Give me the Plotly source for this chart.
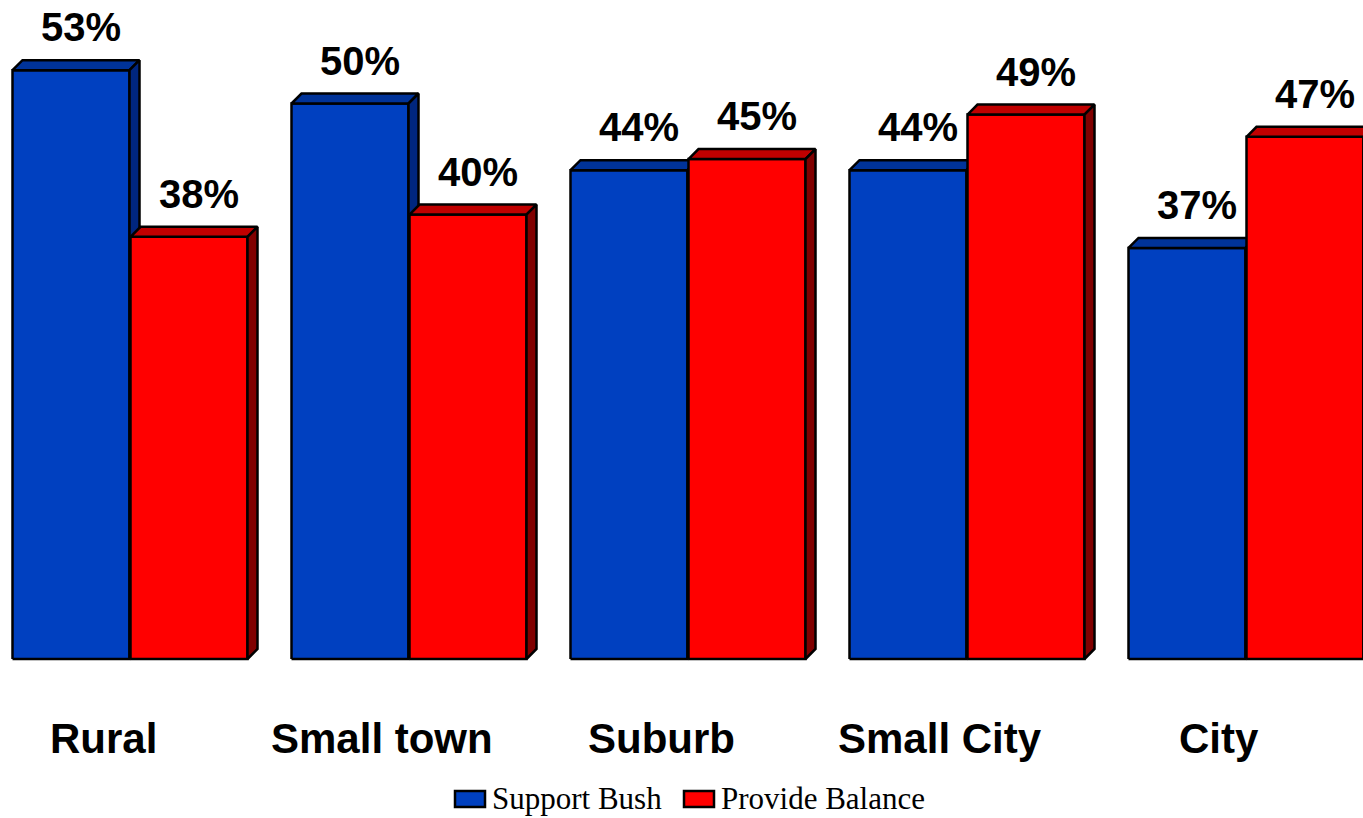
import plotly.graph_objects as go

# Survey results by community type
categories = ["Rural", "Small town", "Suburb", "Small City", "City"]
support_bush = [53, 50, 44, 44, 37]
provide_balance = [38, 40, 45, 49, 47]
series_names = ["Support Bush", "Provide Balance"]

W, H = 1363, 818
PX_PER_CAT = 279.0          # horizontal pixels per category slot
PX_PER_PCT = 11.11          # vertical pixels per percentage point
GROUP_CENTER_PX = 130.0     # first group's centre, in pixels from the left
PLOT_BOTTOM_PX = 668        # bottom of the plotting area
ZERO_PX = 659               # pixel row of the 0% baseline

ux = 1.0 / PX_PER_CAT       # one pixel in x data units
uy = 1.0 / PX_PER_PCT       # one pixel in y data units
DX, DY = 10 * ux, 10 * uy   # depth of the 3-D extrusion

faces = {
    "blue": ("#0040C0", "#003399", "#00267F"),
    "red": ("#FF0000", "#C00000", "#800000"),
}


def prism(x0, x1, v, colors):
    front, top, side = colors
    shapes = [
        ([x0, x1, x1, x0, x0], [0, 0, v, v, 0], front),
        ([x0, x1, x1 + DX, x0 + DX, x0], [v, v, v + DY, v + DY, v], top),
        ([x1, x1 + DX, x1 + DX, x1, x1], [0, DY, v + DY, v, 0], side),
    ]
    return [
        go.Scatter(x=xs, y=ys, mode="lines", fill="toself", fillcolor=c,
                   line=dict(color="black", width=2.5), hoverinfo="skip",
                   showlegend=False)
        for xs, ys, c in shapes
    ]


fig = go.Figure()
annotations = []
label_font = dict(family="Arial, Liberation Sans, sans-serif", size=40, color="black")

for i, (b, r) in enumerate(zip(support_bush, provide_balance)):
    bx0, bx1 = i - 117.5 * ux, i - 0.5 * ux
    rx0, rx1 = i + 0.5 * ux, i + 117.5 * ux
    for t in prism(bx0, bx1, b, faces["blue"]):
        fig.add_trace(t)
    for t in prism(rx0, rx1, r, faces["red"]):
        fig.add_trace(t)
    for (x0, x1), v in (((bx0, bx1), b), ((rx0, rx1), r)):
        annotations.append(dict(
            x=(x0 + x1) / 2 + 10 * ux, y=v, xref="x", yref="y",
            text=f"<b>{v}%</b>", showarrow=False, yanchor="bottom",
            yshift=19, font=label_font))
    annotations.append(dict(
        x=i - 27 * ux, y=(PLOT_BOTTOM_PX - 738) / PLOT_BOTTOM_PX,
        xref="x", yref="paper", text=f"<b>{categories[i]}</b>",
        showarrow=False, yanchor="middle",
        font=dict(family="Arial, Liberation Sans, sans-serif", size=42, color="black")))

# Legend drawn beneath the categories
legend_font = dict(family="Times New Roman, Liberation Serif, serif", size=31, color="black")
shapes = []
legend_items = [(455, 490, faces["blue"][0], series_names[0]),
                (684, 719, faces["red"][0], series_names[1])]
for bx, tx, color, name in legend_items:
    shapes.append(dict(type="rect", xref="paper", yref="paper",
                       x0=bx / W, x1=(bx + 30) / W,
                       y0=(PLOT_BOTTOM_PX - 807) / PLOT_BOTTOM_PX,
                       y1=(PLOT_BOTTOM_PX - 791) / PLOT_BOTTOM_PX,
                       fillcolor=color, line=dict(color="black", width=2.5)))
    annotations.append(dict(x=tx / W, y=(PLOT_BOTTOM_PX - 798) / PLOT_BOTTOM_PX,
                            xref="paper", yref="paper", text=name,
                            showarrow=False, xanchor="left", yanchor="middle",
                            font=legend_font))

fig.update_layout(
    width=W, height=H,
    margin=dict(l=0, r=0, t=0, b=H - PLOT_BOTTOM_PX, pad=0),
    paper_bgcolor="white", plot_bgcolor="white",
    showlegend=False,
    xaxis=dict(range=[-GROUP_CENTER_PX * ux, (W - GROUP_CENTER_PX) * ux],
               visible=False, fixedrange=True),
    yaxis=dict(range=[-(PLOT_BOTTOM_PX - ZERO_PX) * uy, ZERO_PX * uy],
               visible=False, fixedrange=True),
    annotations=annotations,
    shapes=shapes,
)

fig.write_html("out.html")
